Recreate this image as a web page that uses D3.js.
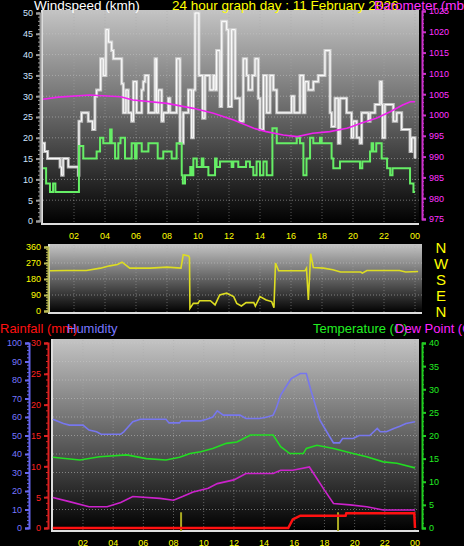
<!DOCTYPE html>
<html><head><meta charset="utf-8">
<script src="https://cdn.jsdelivr.net/npm/d3@7"></script>
<style>body{margin:0;background:#000}svg{display:block}</style>
</head><body><svg id="c" width="464" height="546"></svg>
<script>
// ---------- DATA ----------
const hourTicks = [2,4,6,8,10,12,14,16,18,20,22,24];
const hourLabels = ["02","04","06","08","10","12","14","16","18","20","22","00"];
// wind gust steps [hour, kmh]
const gust = [[0,18.7],[0.1,16.7],[0.3,15],[1.1,13],[1.2,11],[1.3,15],[1.63,13],[2.28,11],[2.32,24],[2.49,26],[2.92,24],[3.2,22],[3.35,30],[3.46,31.5],[3.72,39],[3.89,35],[4.06,46],[4.22,43],[4.43,41],[4.54,39],[5.08,33],[5.18,26],[5.35,31.5],[5.5,26],[5.72,24],[5.83,33.5],[6.04,26],[6.37,31.5],[6.47,33.5],[6.58,35],[6.8,26],[7.23,39],[7.33,26],[7.44,31.5],[7.66,24],[7.76,26],[8.09,29.5],[8.19,26],[8.62,39],[8.84,18.7],[9.05,26],[9.38,31.5],[9.59,20],[9.7,31.5],[9.81,50],[10.06,35],[10.3,24.7],[10.45,35],[10.77,31.5],[10.99,35],[11.1,31.5],[11.2,41],[11.42,27.5],[11.53,48],[11.85,46],[11.96,27.5],[12.17,46],[12.4,29.5],[12.7,24],[12.92,39],[13.14,35],[13.25,31.5],[13.5,35],[13.68,39],[13.89,29.5],[14.0,22],[14.22,35],[14.43,26],[14.65,35],[14.86,31.5],[15.08,26],[16.04,30],[16.2,26],[16.58,35],[16.8,26],[16.9,33.5],[17.12,31.5],[17.44,33.5],[17.76,35],[18.19,41],[18.52,26],[18.62,22.7],[18.84,29.5],[19.05,18.7],[19.16,29.5],[19.59,26],[19.91,20],[20.02,24],[20.24,20],[20.45,18.7],[20.56,26],[20.99,24],[21.1,26],[21.42,28],[21.74,33.5],[21.85,28],[21.91,20],[22.06,28],[22.6,24],[22.82,26],[23.14,22],[23.68,16.7],[23.78,20],[24,15]];
// wind average steps
const avg = [[0,12.7],[0.2,9],[0.45,7],[0.65,9],[0.8,7],[2.32,18],[2.6,15],[3.46,16.7],[3.68,20],[3.89,18.7],[4.33,22],[4.43,18.7],[4.65,15],[4.86,18.7],[5.0,20],[5.29,15],[5.72,18.7],[5.94,15],[6.04,18.7],[6.37,16.7],[6.8,18.7],[7.4,15],[7.76,16.7],[8.3,15],[8.62,18.7],[8.95,11],[9.02,9],[9.16,11],[9.5,13],[9.59,11],[9.7,15],[9.92,13],[10.24,15],[10.35,13],[10.67,11],[11.1,15],[11.2,13],[11.42,14.3],[12.17,13],[12.28,14.3],[12.6,13],[13.1,14.3],[13.35,13],[13.57,11],[13.78,14.3],[14.0,11],[14.22,14.3],[14.43,11],[14.8,22.3],[15.08,18.7],[16.37,20],[16.58,18.7],[16.8,11],[17.0,15],[17.23,20],[17.44,18.7],[17.87,20],[17.98,18.7],[18.62,15],[18.73,12.7],[19.16,14.3],[20.45,12.7],[20.6,14.3],[21.1,16.7],[21.2,18.7],[21.3,16.7],[21.5,18.7],[21.85,15],[22.2,12.7],[22.4,11],[22.55,12.7],[23.68,9],[23.9,7],[24,7]];
const pressure = [[0,1003.8],[1,1004.3],[3,1004.8],[5,1004.4],[5.8,1003.6],[8,1002.8],[9.7,1001.6],[11,1000.4],[12.3,998.8],[13.6,996.8],[14.4,996],[15.5,995.2],[16.4,994.8],[17.4,995.6],[18.5,996],[19.6,996.8],[19.9,997.2],[20.5,998],[21.5,999.2],[22.4,1000.8],[23.2,1002.4],[23.7,1003.2],[24,1003.2]];
const windDir = [[0.45,226],[1.5,228],[2.8,228],[3.7,241],[4.3,254],[4.8,262],[5.1,275],[5.6,241],[6.9,241],[8,247],[8.9,241],[9.05,317],[9.4,310],[9.45,300],[9.48,15],[9.7,43],[10,43],[10.1,58],[10.8,58],[11.1,34],[11.4,90],[11.85,100],[12.3,81],[12.5,43],[12.8,28],[13.1,47],[13.6,47],[13.7,28],[14,81],[14.4,62],[14.75,53],[14.9,19],[15,270],[15.2,226],[16.9,226],[17.0,241],[17.12,62],[17.27,322],[17.44,245],[18.1,241],[18.7,232],[19.2,219],[20.5,219],[20.6,213],[20.9,228],[23.0,228],[23.4,219],[24.2,222]];
const dirTicks = [0,90,180,270,360];
const compass = ["N","E","S","W","N"];
const humidity = [[0,58.8],[0.7,56.5],[1.1,55.6],[2.0,55.6],[2.4,52.9],[2.9,52],[3.2,50.7],[4.5,50.7],[4.7,52],[4.9,53.8],[5.3,57.4],[5.8,58.8],[7.5,58.8],[7.7,56.8],[8.4,56.8],[8.5,57.9],[9.8,57.9],[10.2,58.8],[10.6,60],[10.9,63.3],[11.3,61],[12.4,61],[12.8,59.2],[13.7,59.2],[14.2,60],[14.6,61],[14.8,64.6],[15.1,71.8],[15.5,77],[15.8,80.8],[16.4,83.5],[16.8,83.5],[17.1,74.5],[17.4,66.4],[17.7,58.3],[18.3,50],[18.6,46],[19,46],[19.2,48.4],[19.9,48.4],[20.3,50],[21,50],[21.5,53.8],[21.7,52],[22.1,52],[22.6,53.8],[23,55],[23.4,56.5],[24,57.4]];
const temperature = [[0,15.3],[1.8,14.7],[3.1,15.4],[4.9,15.8],[6.2,15],[7.5,14.7],[8.4,15.3],[9.1,16.1],[9.8,16.5],[10.6,17.2],[11.5,18.3],[12.2,18.6],[13.1,20.1],[14,20.1],[14.6,20.1],[15.1,17.6],[15.7,16.1],[16.6,16.1],[16.8,17.2],[17.5,17.9],[18.6,17.2],[19.9,16.1],[20.8,15.4],[21.9,14.3],[22.8,14],[24,13]];
const dewPoint = [[0,6.6],[1.1,5.7],[2.4,4.6],[3.6,4.6],[4.5,5.5],[5.3,6.8],[7.1,6.4],[8,6],[8.6,6.8],[9.3,7.8],[10.3,8.6],[10.9,9.6],[12,10.4],[12.8,11.8],[14.6,11.8],[15.1,12.5],[15.9,12.5],[17,13.2],[17.5,10.7],[18,8.2],[18.6,5.3],[19.7,5],[20.8,4.6],[21.9,3.9],[24,3.9]];
const rainfall = [[0,0],[15.6,0],[15.9,1.4],[16.4,2.0],[19.4,2.0],[19.45,2.4],[23.95,2.4],[24,0]];
const markers = [8.5,18.9];
const markerHeight = 8.5; // humidity units

// ---------- DRAW ----------
const svg = d3.select("#c");
const defs = svg.append("defs");
const g = defs.append("linearGradient").attr("id","bg").attr("x1",0).attr("y1",0).attr("x2",0).attr("y2",1);
g.append("stop").attr("offset",0).attr("stop-color","#c4c4c4");
g.append("stop").attr("offset",0.55).attr("stop-color","#5a5a5a");
g.append("stop").attr("offset",1).attr("stop-color","#000");
const font = "Liberation Sans, Arial, sans-serif";

function panel(x0,x1,y0,y1){
  svg.append("rect").attr("x",x0).attr("y",y0).attr("width",x1-x0).attr("height",y1-y0).attr("fill","url(#bg)");
  svg.append("path").attr("d",`M${x0},${y0}V${y1}H${x1}`).attr("stroke","#ddd").attr("stroke-width",2).attr("fill","none");
}
function vgrid(x,y0,y1){
  svg.append("g").selectAll("line").data(hourTicks).join("line")
    .attr("x1",d=>x(d)).attr("x2",d=>x(d)).attr("y1",y0).attr("y2",y1)
    .attr("stroke","#aaa").attr("stroke-opacity",0.5).attr("stroke-dasharray","1,2");
}
function hgrid(y,ticks,x0,x1){
  svg.append("g").selectAll("line").data(ticks).join("line")
    .attr("x1",x0).attr("x2",x1).attr("y1",d=>y(d)).attr("y2",d=>y(d))
    .attr("stroke","#ccc").attr("stroke-opacity",0.5).attr("stroke-dasharray","1,2");
}
function xLabels(x,yy){
  svg.append("g").selectAll("text").data(hourTicks).join("text")
    .attr("x",d=>x(d)).attr("y",yy).attr("text-anchor","middle")
    .attr("fill","#ffff00").attr("font-size",9).attr("font-family",font).text((d,i)=>hourLabels[i]);
}
function yAxis(scale,xpos,ticks,minor,color,side,lineColor,fmt){
  const ax = side==="left"?d3.axisLeft(scale):d3.axisRight(scale);
  const gg = svg.append("g").attr("transform",`translate(${xpos},0)`);
  gg.call(ax.tickValues(ticks).tickSize(4).tickFormat(fmt||(d=>d)));
  gg.select(".domain").attr("stroke",lineColor).attr("stroke-width",2);
  gg.selectAll(".tick line").attr("stroke",lineColor).attr("stroke-width",2);
  gg.selectAll("text").attr("fill",color).attr("font-size",9).attr("font-family",font);
  const dom = scale.domain();
  const m = d3.range(dom[0],dom[1]+1e-9,minor);
  gg.selectAll(".mn").data(m).join("line").attr("class","mn")
    .attr("x1",0).attr("x2",side==="left"?-2:2).attr("y1",d=>scale(d)).attr("y2",d=>scale(d))
    .attr("stroke",lineColor);
}
const step = d3.curveStepAfter;

// ---- Top panel ----
const xT = d3.scaleLinear().domain([0,24]).range([43,415]);
const yW = d3.scaleLinear().domain([0,50]).range([221,13]);
const yP = d3.scaleLinear().domain([975,1025]).range([219,11]);
panel(42,419,10,224);
vgrid(xT,11,223);
hgrid(yW,d3.range(5,51,5),43,419);
yAxis(yW,40,d3.range(0,51,5),1,"#cfe4ff","left","#999");
yAxis(yP,422,d3.range(975,1026,5),1,"#ff33ff","right","#cc33cc");
const lineT = (ys)=>d3.line().x(d=>xT(d[0])).y(d=>ys(d[1]));
svg.append("path").datum(gust).attr("d",lineT(yW).curve(step)).attr("fill","none").attr("stroke","#e0e0e0").attr("stroke-opacity",0.75).attr("stroke-width",3);
svg.append("path").datum(gust).attr("d",lineT(yW).curve(step)).attr("fill","none").attr("stroke","#fff").attr("stroke-width",1);
svg.append("path").datum(avg).attr("d",lineT(yW).curve(step)).attr("fill","none").attr("stroke","#66ee66").attr("stroke-width",2);
svg.append("path").datum(pressure).attr("d",lineT(yP)).attr("fill","none").attr("stroke","#ee22ee").attr("stroke-width",1.6);
xLabels(xT,239);
const tt = [["Windspeed (kmh)",34,"#fff"],["24 hour graph day : 11 February 2026",172,"#ffff00"],["Barometer (mb)",374,"#ff33ff"]];
svg.append("g").selectAll("text").data(tt).join("text")
  .attr("x",d=>d[1]).attr("y",10).attr("fill",d=>d[2]).attr("font-size",13.5).attr("font-family",font).text(d=>d[0]);

// ---- Wind direction panel ----
const yD = d3.scaleLinear().domain([0,360]).range([311,247]);
panel(49,422,244,313);
vgrid(xT,245,312);
hgrid(yD,dirTicks.slice(1),49,422);
yAxis(yD,48,dirTicks,15,"#ffff00","left","#bbbb55");
svg.append("path").datum(windDir).attr("d",lineT(yD)).attr("fill","none").attr("stroke","#dddd22").attr("stroke-width",1.6);
svg.append("g").selectAll("text").data(dirTicks).join("text")
  .attr("x",441).attr("y",d=>yD(d)+6).attr("text-anchor","middle").attr("fill","#ffff00")
  .attr("font-size",15).attr("font-family",font).text((d,i)=>compass[i]);

// ---- Bottom panel ----
const xB = d3.scaleLinear().domain([0,24]).range([52.8,415]);
const yH = d3.scaleLinear().domain([0,100]).range([528,343]);
const yR = d3.scaleLinear().domain([0,30]).range([528,343]);
const yTe = d3.scaleLinear().domain([0,40]).range([528,343]);
panel(52,419,339,531);
vgrid(xB,340,530);
hgrid(yH,d3.range(10,101,10),53,419);
yAxis(yH,29,d3.range(0,101,10),2,"#7777ff","left","#6666ee");
yAxis(yR,48,d3.range(0,31,5),1,"#ff2222","left","#dd2222");
yAxis(yTe,422,d3.range(0,41,5),1,"#22ee22","right","#22cc22");
const lineB = (ys)=>d3.line().x(d=>xB(d[0])).y(d=>ys(d[1]));
svg.append("g").selectAll("line").data(markers).join("line")
  .attr("x1",d=>xB(d)).attr("x2",d=>xB(d)).attr("y1",yH(markerHeight)).attr("y2",yH(0)+3)
  .attr("stroke","#aaaa22").attr("stroke-width",2);
svg.append("path").datum(humidity).attr("d",lineB(yH)).attr("fill","none").attr("stroke","#7777ee").attr("stroke-width",1.6);
svg.append("path").datum(temperature).attr("d",lineB(yTe)).attr("fill","none").attr("stroke","#22dd22").attr("stroke-width",1.6);
svg.append("path").datum(dewPoint).attr("d",lineB(yTe)).attr("fill","none").attr("stroke","#cc22cc").attr("stroke-width",1.6);
svg.append("path").datum(rainfall).attr("d",lineB(yR)).attr("fill","none").attr("stroke","#ff1111").attr("stroke-width",2.5);
xLabels(xB,546);
const tb = [["Rainfall (mm)",0,"#ff1111"],["Humidity",67,"#7777ff"],["Temperature (C)",313,"#22ee22"],["Dew Point (C)",395,"#ff22ff"]];
svg.append("g").selectAll("text").data(tb).join("text")
  .attr("x",d=>d[1]).attr("y",333).attr("fill",d=>d[2]).attr("font-size",13).attr("font-family",font).text(d=>d[0]);
</script></body></html>
